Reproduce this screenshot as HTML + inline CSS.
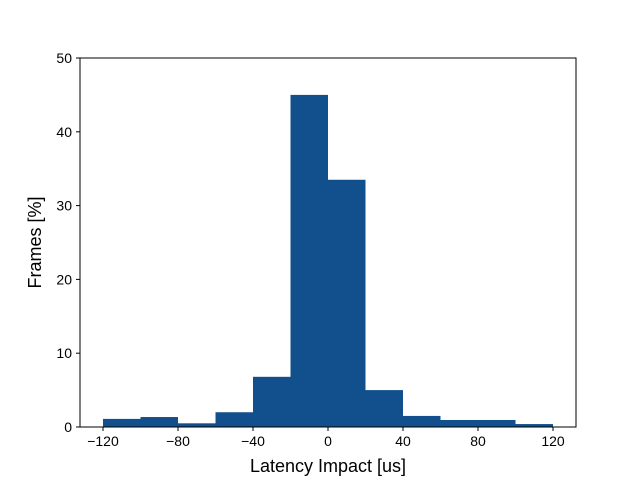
<!DOCTYPE html>
<html><head><meta charset="utf-8"><style>
body{margin:0;background:#fff;}
svg text{font-family:"Liberation Sans","DejaVu Sans",sans-serif;fill:#000;}
</style></head><body>
<svg id="chart" width="640" height="480"></svg>
<script>
const binStarts=[-120,-100,-80,-60,-40,-20,0,20,40,60,80,100];
const binWidth=20;
const frames=[1.1,1.35,0.5,2.0,6.8,45,33.5,5.0,1.5,0.95,0.95,0.4];
const xTicks=[-120,-80,-40,0,40,80,120];
const yTicks=[0,10,20,30,40,50];
const xTickLabels=["\u2212120","\u221280","\u221240","0","40","80","120"];

const L=80,R=576,T=58,B=427;
const xMin=-132.27,xMax=132.27,yMin=0,yMax=50;
const xs=v=>L+(v-xMin)/(xMax-xMin)*(R-L);
const ys=v=>B-(v-yMin)/(yMax-yMin)*(B-T);
const NS="http://www.w3.org/2000/svg";
const svg=document.getElementById('chart');
function mk(tag,attrs,parent){const e=document.createElementNS(NS,tag);for(const k in attrs)e.setAttribute(k,attrs[k]);(parent||svg).appendChild(e);return e;}

const bars=mk('g',{});


binStarts.forEach((s,i)=>{
  const x0=xs(s),x1=xs(s+binWidth),y=ys(frames[i]);
  const r=mk('rect',{x:x0,y:y,width:x1-x0,height:B-y,fill:'#11508c'},bars);
  
  
});
const frame=mk('rect',{x:L,y:T,width:R-L,height:B-T,fill:'none',stroke:'#000','stroke-width':1});



xTicks.forEach((t,i)=>{
  const x=xs(t);
  mk('line',{x1:x,x2:x,y1:B,y2:B+4,stroke:'#000'});
  const tx=mk('text',{x:x,y:B+19,'text-anchor':'middle','font-size':14});
  tx.textContent=xTickLabels[i];
  
  
});
yTicks.forEach(t=>{
  const y=ys(t);
  mk('line',{x1:L-4,x2:L,y1:y,y2:y,stroke:'#000'});
  const tx=mk('text',{x:L-8,y:y+5,'text-anchor':'end','font-size':14});
  tx.textContent=t;
  
  
});
const xt=mk('text',{x:(L+R)/2,y:472,'text-anchor':'middle','font-size':18});
xt.textContent='Latency Impact [us]';


const yt=mk('text',{x:0,y:0,'text-anchor':'middle','font-size':18,transform:'translate(41,'+((T+B)/2)+') rotate(-90)'});
yt.textContent='Frames [%]';


</script>
</body></html>
